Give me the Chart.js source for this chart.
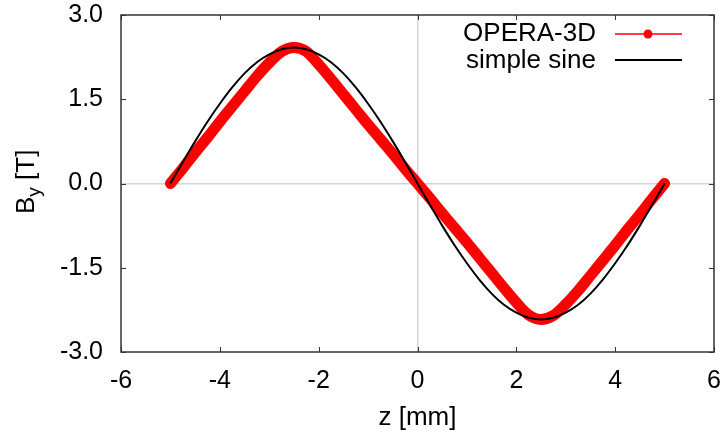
<!DOCTYPE html>
<html>
<head>
<meta charset="utf-8">
<script src="https://cdn.jsdelivr.net/npm/chart.js@4"></script>
<style>
  body { margin: 0; background: #fff; }
</style>
</head>
<body>
<canvas id="myChart" width="726" height="439"></canvas>
<script>
// z positions in mm
const zValues = [-5, -4.75, -4.5, -4.25, -4, -3.75, -3.5, -3.25, -3, -2.75, -2.5, -2.25, -2, -1.75, -1.5, -1.25, -1, -0.75, -0.5, -0.25,
  0, 0.25, 0.5, 0.75, 1, 1.25, 1.5, 1.75, 2, 2.25, 2.5, 2.75, 3, 3.25, 3.5, 3.75, 4, 4.25, 4.5, 4.75, 5];
// B_y in T
const operaValues = [0, 0.27, 0.55, 0.82, 1.10, 1.37, 1.64, 1.91, 2.15, 2.35, 2.42, 2.35, 2.12, 1.86, 1.59, 1.32, 1.05, 0.79, 0.53, 0.26,
  0, -0.26, -0.53, -0.79, -1.05, -1.32, -1.59, -1.86, -2.12, -2.34, -2.42, -2.35, -2.15, -1.91, -1.64, -1.37, -1.10, -0.82, -0.55, -0.27, 0];
const sineValues = [0, 0.38, 0.75, 1.10, 1.42, 1.71, 1.96, 2.16, 2.30, 2.39, 2.42, 2.39, 2.30, 2.16, 1.96, 1.71, 1.42, 1.10, 0.75, 0.38,
  0, -0.38, -0.75, -1.10, -1.42, -1.71, -1.96, -2.16, -2.30, -2.39, -2.42, -2.39, -2.30, -2.16, -1.96, -1.71, -1.42, -1.10, -0.75, -0.38, 0];
const xTicks = [-6, -4, -2, 0, 2, 4, 6];
const yTicks = [-3, -1.5, 0, 1.5, 3];

const FONT = "'Liberation Sans', Arial, sans-serif";
Chart.defaults.font.family = FONT;
Chart.defaults.font.size = 25;
Chart.defaults.color = '#000';

const frame = {
  id: 'frame',
  afterDraw(chart) {
    const c = chart.ctx;
    const a = chart.chartArea;
    const xs = chart.scales.x, ys = chart.scales.y;
    c.save();
    c.strokeStyle = '#333';
    c.lineWidth = 1.5;
    c.strokeRect(a.left, a.top, a.right - a.left, a.bottom - a.top);
    c.lineWidth = 1;
    c.beginPath();
    xTicks.forEach(v => {
      const px = Math.round(xs.getPixelForValue(v)) + 0.5;
      c.moveTo(px, a.bottom); c.lineTo(px, a.bottom - 5);
      c.moveTo(px, a.top); c.lineTo(px, a.top + 5);
    });
    yTicks.forEach(v => {
      const py = Math.round(ys.getPixelForValue(v)) + 0.5;
      c.moveTo(a.left, py); c.lineTo(a.left + 5, py);
      c.moveTo(a.right, py); c.lineTo(a.right - 5, py);
    });
    c.stroke();

    // axis titles
    c.fillStyle = '#000';
    c.font = '26px ' + FONT;
    c.textAlign = 'center';
    c.textBaseline = 'middle';
    c.fillText('z [mm]', (a.left + a.right) / 2, 418);

    c.save();
    c.translate(34, 214);
    c.rotate(-Math.PI / 2);
    c.textAlign = 'left';
    c.textBaseline = 'alphabetic';
    c.font = '26px ' + FONT;
    c.fillText('B', 0, 0);
    let w = c.measureText('B').width;
    c.font = '19px ' + FONT;
    c.fillText('y', w, 6);
    w += c.measureText('y').width;
    c.font = '26px ' + FONT;
    c.fillText(' [T]', w, 0);
    c.restore();

    // legend
    c.font = '26px ' + FONT;
    c.textAlign = 'right';
    c.textBaseline = 'middle';
    c.fillText('OPERA-3D', 596, 34);
    c.fillText('simple sine', 596, 61);
    c.strokeStyle = '#ff0000';
    c.lineWidth = 1.5;
    c.beginPath(); c.moveTo(615, 34); c.lineTo(682, 34); c.stroke();
    c.fillStyle = '#ff0000';
    c.beginPath(); c.arc(648, 34, 4.5, 0, Math.PI * 2); c.fill();
    c.strokeStyle = '#000';
    c.lineWidth = 2;
    c.beginPath(); c.moveTo(615, 60); c.lineTo(682, 60); c.stroke();
    c.restore();
  }
};

const ctx = document.getElementById('myChart').getContext('2d');
const myChart = new Chart(ctx, {
  type: 'line',
  data: {
    datasets: [{
      label: 'simple sine',
      data: zValues.map((z, i) => ({ x: z, y: sineValues[i] })),
      borderColor: '#000',
      borderWidth: 2,
      pointRadius: 0,
      cubicInterpolationMode: 'monotone',
      order: 1
    }, {
      label: 'OPERA-3D',
      data: zValues.map((z, i) => ({ x: z, y: operaValues[i] })),
      borderColor: '#ff0000',
      borderWidth: 11,
      borderCapStyle: 'round',
      borderJoinStyle: 'round',
      pointRadius: 0,
      cubicInterpolationMode: 'monotone',
      order: 2
    }]
  },
  options: {
    responsive: false,
    animation: false,
    layout: { padding: { top: 15, right: 12, left: 0, bottom: 0 } },
    plugins: {
      legend: { display: false },
      tooltip: { enabled: false }
    },
    scales: {
      x: {
        type: 'linear',
        min: -6,
        max: 6,
        afterFit(scale) {
          scale.height = 87;
          scale.paddingLeft = 0;
          scale.paddingRight = 0;
        },
        border: { display: false },
        grid: {
          drawTicks: false,
          lineWidth: 1.5,
          color: c => c.tick && c.tick.value === 0 ? '#d3d3d3' : 'rgba(0,0,0,0)'
        },
        ticks: { stepSize: 2, padding: 14 }
      },
      y: {
        min: -3,
        max: 3,
        afterFit(scale) {
          scale.width = 121;
          scale.paddingTop = 0;
          scale.paddingBottom = 0;
        },
        border: { display: false },
        grid: {
          drawTicks: false,
          lineWidth: 1.5,
          color: c => c.tick && c.tick.value === 0 ? '#d3d3d3' : 'rgba(0,0,0,0)'
        },
        ticks: { stepSize: 1.5, padding: 18, callback: v => v.toFixed(1) }
      }
    }
  },
  plugins: [frame]
});
</script>
</body>
</html>
